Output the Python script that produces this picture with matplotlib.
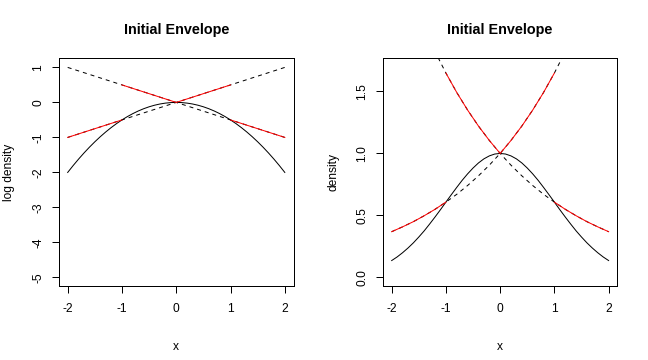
import numpy as np
import matplotlib
matplotlib.use("Agg")
import matplotlib.pyplot as plt
from matplotlib import transforms

# ---------------- data ----------------
# target curve (read at 0.1 steps)
x_curve = [-2.0, -1.9, -1.8, -1.7, -1.6, -1.5, -1.4, -1.3, -1.2, -1.1, -1.0,
           -0.9, -0.8, -0.7, -0.6, -0.5, -0.4, -0.3, -0.2, -0.1, 0.0,
           0.1, 0.2, 0.3, 0.4, 0.5, 0.6, 0.7, 0.8, 0.9, 1.0,
           1.1, 1.2, 1.3, 1.4, 1.5, 1.6, 1.7, 1.8, 1.9, 2.0]
log_density = [-2.0, -1.805, -1.62, -1.445, -1.28, -1.125, -0.98, -0.845, -0.72, -0.605, -0.5,
               -0.405, -0.32, -0.245, -0.18, -0.125, -0.08, -0.045, -0.02, -0.005, 0.0,
               -0.005, -0.02, -0.045, -0.08, -0.125, -0.18, -0.245, -0.32, -0.405, -0.5,
               -0.605, -0.72, -0.845, -0.98, -1.125, -1.28, -1.445, -1.62, -1.805, -2.0]
density = [0.135, 0.164, 0.198, 0.236, 0.278, 0.325, 0.375, 0.430, 0.487, 0.546, 0.607,
           0.667, 0.726, 0.783, 0.835, 0.882, 0.923, 0.956, 0.980, 0.995, 1.0,
           0.995, 0.980, 0.956, 0.923, 0.882, 0.835, 0.783, 0.726, 0.667, 0.607,
           0.546, 0.487, 0.430, 0.375, 0.325, 0.278, 0.236, 0.198, 0.164, 0.135]
# envelope lines through the hull points (x = -1, 0, 1), read at 0.2 steps
x_env = [-2.0, -1.8, -1.6, -1.4, -1.2, -1.0, -0.8, -0.6, -0.4, -0.2, 0.0,
         0.2, 0.4, 0.6, 0.8, 1.0, 1.2, 1.4, 1.6, 1.8, 2.0]
log_up = [-1.0, -0.9, -0.8, -0.7, -0.6, -0.5, -0.4, -0.3, -0.2, -0.1, 0.0,
          0.1, 0.2, 0.3, 0.4, 0.5, 0.6, 0.7, 0.8, 0.9, 1.0]          # slope +0.5
log_down = [1.0, 0.9, 0.8, 0.7, 0.6, 0.5, 0.4, 0.3, 0.2, 0.1, 0.0,
            -0.1, -0.2, -0.3, -0.4, -0.5, -0.6, -0.7, -0.8, -0.9, -1.0]  # slope -0.5
dens_up = [0.368, 0.407, 0.449, 0.497, 0.549, 0.607, 0.670, 0.741, 0.819, 0.905, 1.0,
           1.105, 1.221, 1.350, 1.492, 1.649, 1.822, 2.014, 2.226, 2.460, 2.718]
dens_down = [2.718, 2.460, 2.226, 2.014, 1.822, 1.649, 1.492, 1.350, 1.221, 1.105, 1.0,
             0.905, 0.819, 0.741, 0.670, 0.607, 0.549, 0.497, 0.449, 0.407, 0.368]
hull_x = [-2.0, -1.0, 0.0, 1.0, 2.0]   # segment boundaries of red upper envelope
up_segments = [0, 2]    # which segments use the "up" line
x_ticks = [-2, -1, 0, 1, 2]
left_yticks = [-5, -4, -3, -2, -1, 0, 1]
right_yticks = [0.0, 0.5, 1.0, 1.5]
right_ytick_labels = ["0.0", "0.5", "1.0", "1.5"]
title = "Initial Envelope"

# ---------------- figure ----------------
W, H = 648, 360
fig = plt.figure(figsize=(W / 100, H / 100), dpi=100)
plt.rcParams['font.family'] = ['Liberation Sans', 'DejaVu Sans']

top_px, bot_px = 58.3, 285.7
ax_h_px = bot_px - top_px
lw = 0.72
fs = 8.64

def make_ax(x0_px, x1_px):
    return fig.add_axes([x0_px / W, 1 - bot_px / H, (x1_px - x0_px) / W, ax_h_px / H])

axL = make_ax(59.0, 293.5)
axR = make_ax(383.0, 617.3)

xe = np.array(x_env)

def segments(up, down):
    up = np.array(up); down = np.array(down)
    segs = []
    for i in range(len(hull_x) - 1):
        m = (xe >= hull_x[i] - 1e-9) & (xe <= hull_x[i + 1] + 1e-9)
        y = up if i in up_segments else down
        segs.append((xe[m], y[m]))
    return segs

def draw(ax, curve, up, down, ylim, yticks, ylabels, ylab, ax_w_px, ylab_x_px):
    ax.plot(x_curve, curve, color='black', lw=lw)
    ax.plot(xe, up, color='black', lw=lw, ls=(0, (4, 4)))
    ax.plot(xe, down, color='black', lw=lw, ls=(0, (4, 4)))
    for sx, sy in segments(up, down):
        ax.plot(sx, sy, color='#ff0000', lw=lw)
    ax.set_xlim(-2.16, 2.16)
    ax.set_ylim(*ylim)
    ax.set_xticks(x_ticks)
    ax.set_yticks(yticks)
    ax.set_xticklabels([])
    ax.set_yticklabels([])
    ax.tick_params(length=5.2, width=lw, color='black', direction='out')
    for s in ax.spines.values():
        s.set_linewidth(lw)
        s.set_color('black')
    # x tick labels
    tx = transforms.blended_transform_factory(ax.transData, ax.transAxes)
    for v in x_ticks:
        ax.text(v, -(312.3 - bot_px) / ax_h_px, str(v), transform=tx,
                ha='center', va='baseline', fontsize=fs, clip_on=False)
    # y tick labels (rotated)
    ty = transforms.blended_transform_factory(ax.transAxes, ax.transData)
    for v, lab in zip(yticks, ylabels):
        ax.text(-18.0 / ax_w_px, v, lab, transform=ty, rotation=90,
                rotation_mode='anchor', ha='center', va='baseline',
                fontsize=fs, clip_on=False)
    cx = ax.get_position().x0 + ax.get_position().width / 2
    cy = ax.get_position().y0 + ax.get_position().height / 2
    fig.text(cx, 1 - 34.3 / H, title, ha='center', va='baseline',
             fontsize=10.37, fontweight='bold')
    fig.text(cx, 1 - 350.0 / H, "x", ha='center', va='baseline', fontsize=fs)
    fig.text(ylab_x_px / W, cy, ylab, rotation=90, rotation_mode='anchor',
             ha='center', va='baseline', fontsize=fs)

draw(axL, log_density, log_up, log_down, (-5.235, 1.26), left_yticks,
     [str(v) for v in left_yticks], "log density", 234.5, 12.5)
draw(axR, density, dens_up, dens_down, (-0.068, 1.768), right_yticks,
     right_ytick_labels, "density", 234.3, 336.5)

fig.savefig("out.png", dpi=100)
